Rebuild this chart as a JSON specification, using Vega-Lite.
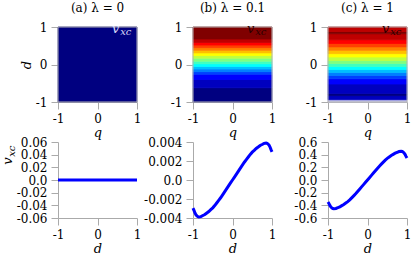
{
  "$schema": "https://vega.github.io/schema/vega-lite/v6.json",
  "padding": {"left": 2, "top": 2, "right": 0, "bottom": 0},
  "config": {
    "font": "DejaVu Serif",
    "view": {"stroke": null},
    "axis": {"grid": false, "domainColor": "#aaaaaa", "tickColor": "#aaaaaa", "tickSize": 7, "labelPadding": 4, "labelFont": "DejaVu Serif", "labelFontSize": 12, "labelColor": "#000000", "labelFlush": false, "labelOverlap": false, "titleFont": "DejaVu Serif", "titleFontSize": 13, "titleFontStyle": "italic", "titleFontWeight": "normal", "titleColor": "#000000", "titlePadding": 2},
    "title": {"font": "DejaVu Serif", "fontSize": 12, "fontWeight": "normal", "color": "#000000", "offset": 6}
  },
  "datasets": {
    "heat_a": [{"d0": -1, "d1": 1, "level": 0}],
    "heat_b": [
      {"d0": -1, "d1": -0.62, "level": 0}, {"d0": -0.62, "d1": -0.40, "level": 1}, {"d0": -0.40, "d1": -0.26, "level": 2},
      {"d0": -0.26, "d1": -0.19, "level": 3}, {"d0": -0.19, "d1": -0.12, "level": 4}, {"d0": -0.12, "d1": -0.05, "level": 5},
      {"d0": -0.05, "d1": 0.02, "level": 6}, {"d0": 0.02, "d1": 0.09, "level": 7}, {"d0": 0.09, "d1": 0.17, "level": 8},
      {"d0": 0.17, "d1": 0.24, "level": 9}, {"d0": 0.24, "d1": 0.31, "level": 10}, {"d0": 0.31, "d1": 0.38, "level": 11},
      {"d0": 0.38, "d1": 0.45, "level": 12}, {"d0": 0.45, "d1": 0.52, "level": 13}, {"d0": 0.52, "d1": 0.59, "level": 14},
      {"d0": 0.59, "d1": 0.68, "level": 15}, {"d0": 0.68, "d1": 1, "level": 16}
    ],
    "heat_c": [
      {"d0": -1, "d1": -0.94, "level": -1}, {"d0": -0.94, "d1": -0.83, "level": 1}, {"d0": -0.83, "d1": -0.77, "level": 0},
      {"d0": -0.77, "d1": -0.52, "level": 1}, {"d0": -0.52, "d1": -0.38, "level": 2}, {"d0": -0.38, "d1": -0.29, "level": 3},
      {"d0": -0.29, "d1": -0.21, "level": 4}, {"d0": -0.21, "d1": -0.13, "level": 5}, {"d0": -0.13, "d1": -0.05, "level": 6},
      {"d0": -0.05, "d1": 0.03, "level": 7}, {"d0": 0.03, "d1": 0.11, "level": 8}, {"d0": 0.11, "d1": 0.20, "level": 9},
      {"d0": 0.20, "d1": 0.29, "level": 10}, {"d0": 0.29, "d1": 0.38, "level": 11}, {"d0": 0.38, "d1": 0.47, "level": 12},
      {"d0": 0.47, "d1": 0.56, "level": 13}, {"d0": 0.56, "d1": 0.66, "level": 14}, {"d0": 0.66, "d1": 0.82, "level": 15},
      {"d0": 0.82, "d1": 0.88, "level": 16}, {"d0": 0.88, "d1": 1, "level": 15}
    ],
    "curve_a": [{"d": -1, "v": 0}, {"d": -0.5, "v": 0}, {"d": 0, "v": 0}, {"d": 0.5, "v": 0}, {"d": 1, "v": 0}],
    "curve_b": [
      {"d": -1, "v": -0.00296}, {"d": -0.975, "v": -0.0032}, {"d": -0.95, "v": -0.00347}, {"d": -0.925, "v": -0.00367},
      {"d": -0.9, "v": -0.00378}, {"d": -0.875, "v": -0.00386}, {"d": -0.85, "v": -0.0039}, {"d": -0.8, "v": -0.00386},
      {"d": -0.75, "v": -0.00374}, {"d": -0.7, "v": -0.00363}, {"d": -0.65, "v": -0.00347}, {"d": -0.6, "v": -0.00332},
      {"d": -0.55, "v": -0.00312}, {"d": -0.5, "v": -0.00293}, {"d": -0.45, "v": -0.00269}, {"d": -0.4, "v": -0.00242},
      {"d": -0.35, "v": -0.00215}, {"d": -0.3, "v": -0.00187}, {"d": -0.25, "v": -0.00156}, {"d": -0.2, "v": -0.00125},
      {"d": -0.15, "v": -0.00094}, {"d": -0.1, "v": -0.00062}, {"d": -0.05, "v": -0.00031}, {"d": 0, "v": 0},
      {"d": 0.05, "v": 0.00031}, {"d": 0.1, "v": 0.00062}, {"d": 0.15, "v": 0.00094}, {"d": 0.2, "v": 0.00125},
      {"d": 0.25, "v": 0.00156}, {"d": 0.3, "v": 0.00187}, {"d": 0.35, "v": 0.00215}, {"d": 0.4, "v": 0.00242},
      {"d": 0.45, "v": 0.00269}, {"d": 0.5, "v": 0.00293}, {"d": 0.55, "v": 0.00312}, {"d": 0.6, "v": 0.00332},
      {"d": 0.65, "v": 0.00347}, {"d": 0.7, "v": 0.00363}, {"d": 0.75, "v": 0.00374}, {"d": 0.8, "v": 0.00386},
      {"d": 0.85, "v": 0.0039}, {"d": 0.875, "v": 0.00386}, {"d": 0.9, "v": 0.00378}, {"d": 0.925, "v": 0.00367},
      {"d": 0.95, "v": 0.00347}, {"d": 0.975, "v": 0.0032}, {"d": 1, "v": 0.00296}
    ],
    "curve_c": [
      {"d": -1, "v": -0.346}, {"d": -0.975, "v": -0.373}, {"d": -0.95, "v": -0.405}, {"d": -0.925, "v": -0.428},
      {"d": -0.9, "v": -0.441}, {"d": -0.875, "v": -0.45}, {"d": -0.85, "v": -0.455}, {"d": -0.8, "v": -0.45},
      {"d": -0.75, "v": -0.437}, {"d": -0.7, "v": -0.423}, {"d": -0.65, "v": -0.405}, {"d": -0.6, "v": -0.387},
      {"d": -0.55, "v": -0.364}, {"d": -0.5, "v": -0.341}, {"d": -0.45, "v": -0.314}, {"d": -0.4, "v": -0.282},
      {"d": -0.35, "v": -0.25}, {"d": -0.3, "v": -0.218}, {"d": -0.25, "v": -0.182}, {"d": -0.2, "v": -0.146},
      {"d": -0.15, "v": -0.109}, {"d": -0.1, "v": -0.073}, {"d": -0.05, "v": -0.036}, {"d": 0, "v": 0},
      {"d": 0.05, "v": 0.036}, {"d": 0.1, "v": 0.073}, {"d": 0.15, "v": 0.109}, {"d": 0.2, "v": 0.146},
      {"d": 0.25, "v": 0.182}, {"d": 0.3, "v": 0.218}, {"d": 0.35, "v": 0.25}, {"d": 0.4, "v": 0.282},
      {"d": 0.45, "v": 0.314}, {"d": 0.5, "v": 0.341}, {"d": 0.55, "v": 0.364}, {"d": 0.6, "v": 0.387},
      {"d": 0.65, "v": 0.405}, {"d": 0.7, "v": 0.423}, {"d": 0.75, "v": 0.437}, {"d": 0.8, "v": 0.45},
      {"d": 0.85, "v": 0.455}, {"d": 0.875, "v": 0.45}, {"d": 0.9, "v": 0.441}, {"d": 0.925, "v": 0.428},
      {"d": 0.95, "v": 0.405}, {"d": 0.975, "v": 0.373}, {"d": 1, "v": 0.346}
    ]
  },
  "columns": 3,
  "bounds": "flush",
  "spacing": {"row": 40, "column": 56},
  "resolve": {"scale": {"color": "shared", "stroke": "shared"}},
  "concat": [
    {
      "width": 79, "height": 75, "title": "(a) λ = 0",
      "layer": [
        {"data": {"name": "heat_a"}, "mark": {"type": "rect", "strokeWidth": 0.8},
         "encoding": {
           "x": {"datum": -1, "type": "quantitative", "scale": {"domain": [-1, 1], "nice": false}, "axis": {"values": [-1, 0, 1], "title": "q", "labelExpr": "replace(format(datum.value, 'd'), '−', '-')"}},
           "x2": {"datum": 1},
           "y": {"field": "d0", "type": "quantitative", "scale": {"domain": [-1, 1], "nice": false}, "axis": {"values": [-1, 0, 1], "title": "d", "labelExpr": "replace(format(datum.value, 'd'), '−', '-')"}},
           "y2": {"field": "d1"},
           "color": {"field": "level", "type": "ordinal", "legend": null, "scale": {"domain": [-1, 0, 1, 2, 3, 4, 5, 6, 7, 8, 9, 10, 11, 12, 13, 14, 15, 16], "range": ["#c8c8ec", "#000080", "#0000bf", "#0000ff", "#0040ff", "#0080ff", "#00bfff", "#00ffff", "#40ffbf", "#80ff80", "#bfff40", "#ffff00", "#ffbf00", "#ff8000", "#ff4000", "#ff0000", "#bf0000", "#800000"]}},
           "stroke": {"field": "level", "type": "ordinal", "legend": null, "scale": {"domain": [-1, 0, 1, 2, 3, 4, 5, 6, 7, 8, 9, 10, 11, 12, 13, 14, 15, 16], "range": ["#c8c8ec", "#000080", "#0000bf", "#0000ff", "#0040ff", "#0080ff", "#00bfff", "#00ffff", "#40ffbf", "#80ff80", "#bfff40", "#ffff00", "#ffbf00", "#ff8000", "#ff4000", "#ff0000", "#bf0000", "#800000"]}}
         }},
        {"data": {"values": [{}]}, "mark": {"type": "rect", "filled": false, "color": "#b4b4b4", "strokeWidth": 1},
         "encoding": {
           "x": {"datum": -1, "type": "quantitative", "axis": {"values": [-1, 0, 1], "title": "q", "labelExpr": "replace(format(datum.value, 'd'), '−', '-')"}}, "x2": {"datum": 1},
           "y": {"datum": -1, "type": "quantitative", "axis": {"values": [-1, 0, 1], "title": "d", "labelExpr": "replace(format(datum.value, 'd'), '−', '-')"}}, "y2": {"datum": 1}}},
        {"data": {"values": [{}]}, "mark": {"type": "text", "text": "xc", "font": "DejaVu Serif", "fontStyle": "italic", "fontSize": 10, "align": "right", "baseline": "alphabetic", "color": "#d8d8f8"},
         "encoding": {
           "x": {"datum": 0.86, "type": "quantitative", "axis": {"values": [-1, 0, 1], "title": "q", "labelExpr": "replace(format(datum.value, 'd'), '−', '-')"}},
           "y": {"datum": 0.79, "type": "quantitative", "axis": {"values": [-1, 0, 1], "title": "d", "labelExpr": "replace(format(datum.value, 'd'), '−', '-')"}}}},
        {"data": {"values": [{}]}, "mark": {"type": "text", "text": "v", "font": "DejaVu Serif", "fontStyle": "italic", "fontSize": 13, "align": "right", "baseline": "alphabetic", "dx": -12, "color": "#d8d8f8"},
         "encoding": {
           "x": {"datum": 0.86, "type": "quantitative", "axis": {"values": [-1, 0, 1], "title": "q", "labelExpr": "replace(format(datum.value, 'd'), '−', '-')"}},
           "y": {"datum": 0.84, "type": "quantitative", "axis": {"values": [-1, 0, 1], "title": "d", "labelExpr": "replace(format(datum.value, 'd'), '−', '-')"}}}}
      ]
    },
    {
      "width": 79, "height": 75, "title": "(b) λ = 0.1",
      "layer": [
        {"data": {"name": "heat_b"}, "mark": {"type": "rect", "strokeWidth": 0.8},
         "encoding": {
           "x": {"datum": -1, "type": "quantitative", "scale": {"domain": [-1, 1], "nice": false}, "axis": {"values": [-1, 0, 1], "title": "q", "labelExpr": "replace(format(datum.value, 'd'), '−', '-')"}},
           "x2": {"datum": 1},
           "y": {"field": "d0", "type": "quantitative", "scale": {"domain": [-1, 1], "nice": false}, "axis": {"values": [-1, 0, 1], "title": null, "labelExpr": "replace(format(datum.value, 'd'), '−', '-')"}},
           "y2": {"field": "d1"},
           "color": {"field": "level", "type": "ordinal", "legend": null},
           "stroke": {"field": "level", "type": "ordinal", "legend": null}
         }},
        {"data": {"values": [{}]}, "mark": {"type": "rect", "filled": false, "color": "#b4b4b4", "strokeWidth": 1},
         "encoding": {
           "x": {"datum": -1, "type": "quantitative", "axis": {"values": [-1, 0, 1], "title": "q", "labelExpr": "replace(format(datum.value, 'd'), '−', '-')"}}, "x2": {"datum": 1},
           "y": {"datum": -1, "type": "quantitative", "axis": {"values": [-1, 0, 1], "title": null, "labelExpr": "replace(format(datum.value, 'd'), '−', '-')"}}, "y2": {"datum": 1}}},
        {"data": {"values": [{}]}, "mark": {"type": "text", "text": "xc", "font": "DejaVu Serif", "fontStyle": "italic", "fontSize": 10, "align": "right", "baseline": "alphabetic", "color": "#2a0000"},
         "encoding": {
           "x": {"datum": 0.86, "type": "quantitative", "axis": {"values": [-1, 0, 1], "title": "q", "labelExpr": "replace(format(datum.value, 'd'), '−', '-')"}},
           "y": {"datum": 0.79, "type": "quantitative", "axis": {"values": [-1, 0, 1], "title": null, "labelExpr": "replace(format(datum.value, 'd'), '−', '-')"}}}},
        {"data": {"values": [{}]}, "mark": {"type": "text", "text": "v", "font": "DejaVu Serif", "fontStyle": "italic", "fontSize": 13, "align": "right", "baseline": "alphabetic", "dx": -12, "color": "#2a0000"},
         "encoding": {
           "x": {"datum": 0.86, "type": "quantitative", "axis": {"values": [-1, 0, 1], "title": "q", "labelExpr": "replace(format(datum.value, 'd'), '−', '-')"}},
           "y": {"datum": 0.84, "type": "quantitative", "axis": {"values": [-1, 0, 1], "title": null, "labelExpr": "replace(format(datum.value, 'd'), '−', '-')"}}}}
      ]
    },
    {
      "width": 79, "height": 75, "title": "(c) λ = 1",
      "layer": [
        {"data": {"name": "heat_c"}, "mark": {"type": "rect", "strokeWidth": 0.8},
         "encoding": {
           "x": {"datum": -1, "type": "quantitative", "scale": {"domain": [-1, 1], "nice": false}, "axis": {"values": [-1, 0, 1], "title": "q", "labelExpr": "replace(format(datum.value, 'd'), '−', '-')"}},
           "x2": {"datum": 1},
           "y": {"field": "d0", "type": "quantitative", "scale": {"domain": [-1, 1], "nice": false}, "axis": {"values": [-1, 0, 1], "title": null, "labelExpr": "replace(format(datum.value, 'd'), '−', '-')"}},
           "y2": {"field": "d1"},
           "color": {"field": "level", "type": "ordinal", "legend": null},
           "stroke": {"field": "level", "type": "ordinal", "legend": null}
         }},
        {"data": {"values": [{}]}, "mark": {"type": "rect", "filled": false, "color": "#b4b4b4", "strokeWidth": 1},
         "encoding": {
           "x": {"datum": -1, "type": "quantitative", "axis": {"values": [-1, 0, 1], "title": "q", "labelExpr": "replace(format(datum.value, 'd'), '−', '-')"}}, "x2": {"datum": 1},
           "y": {"datum": -1, "type": "quantitative", "axis": {"values": [-1, 0, 1], "title": null, "labelExpr": "replace(format(datum.value, 'd'), '−', '-')"}}, "y2": {"datum": 1}}},
        {"data": {"values": [{}]}, "mark": {"type": "text", "text": "xc", "font": "DejaVu Serif", "fontStyle": "italic", "fontSize": 10, "align": "right", "baseline": "alphabetic", "color": "#2a0000"},
         "encoding": {
           "x": {"datum": 0.86, "type": "quantitative", "axis": {"values": [-1, 0, 1], "title": "q", "labelExpr": "replace(format(datum.value, 'd'), '−', '-')"}},
           "y": {"datum": 0.79, "type": "quantitative", "axis": {"values": [-1, 0, 1], "title": null, "labelExpr": "replace(format(datum.value, 'd'), '−', '-')"}}}},
        {"data": {"values": [{}]}, "mark": {"type": "text", "text": "v", "font": "DejaVu Serif", "fontStyle": "italic", "fontSize": 13, "align": "right", "baseline": "alphabetic", "dx": -12, "color": "#2a0000"},
         "encoding": {
           "x": {"datum": 0.86, "type": "quantitative", "axis": {"values": [-1, 0, 1], "title": "q", "labelExpr": "replace(format(datum.value, 'd'), '−', '-')"}},
           "y": {"datum": 0.84, "type": "quantitative", "axis": {"values": [-1, 0, 1], "title": null, "labelExpr": "replace(format(datum.value, 'd'), '−', '-')"}}}}
      ]
    },
    {
      "width": 79, "height": 76,
      "layer": [
        {"data": {"name": "curve_a"}, "mark": {"type": "line", "color": "#0000ff", "strokeWidth": 3},
         "encoding": {
           "x": {"field": "d", "type": "quantitative", "scale": {"domain": [-1, 1], "nice": false}, "axis": {"values": [-1, 0, 1], "title": "d", "labelExpr": "replace(format(datum.value, 'd'), '−', '-')"}},
           "y": {"field": "v", "type": "quantitative", "scale": {"domain": [-0.06, 0.06], "nice": false, "zero": false}, "axis": {"values": [-0.06, -0.04, -0.02, 0, 0.02, 0.04, 0.06], "title": null, "labelExpr": "datum.value == 0 ? '0.0' : replace(format(datum.value, '.2f'), '−', '-')"}}
         }},
        {"data": {"values": [{}]}, "mark": {"type": "text", "text": "v", "font": "DejaVu Serif", "fontStyle": "italic", "fontSize": 13, "angle": 270, "align": "left", "baseline": "alphabetic", "dy": -46},
         "encoding": {
           "x": {"datum": -1, "type": "quantitative", "axis": {"values": [-1, 0, 1], "title": "d", "labelExpr": "replace(format(datum.value, 'd'), '−', '-')"}},
           "y": {"datum": 0.024, "type": "quantitative", "axis": {"values": [-0.06, -0.04, -0.02, 0, 0.02, 0.04, 0.06], "title": null, "labelExpr": "datum.value == 0 ? '0.0' : replace(format(datum.value, '.2f'), '−', '-')"}}}},
        {"data": {"values": [{}]}, "mark": {"type": "text", "text": "xc", "font": "DejaVu Serif", "fontStyle": "italic", "fontSize": 10, "angle": 270, "align": "left", "baseline": "alphabetic", "dx": 8, "dy": -43},
         "encoding": {
           "x": {"datum": -1, "type": "quantitative", "axis": {"values": [-1, 0, 1], "title": "d", "labelExpr": "replace(format(datum.value, 'd'), '−', '-')"}},
           "y": {"datum": 0.024, "type": "quantitative", "axis": {"values": [-0.06, -0.04, -0.02, 0, 0.02, 0.04, 0.06], "title": null, "labelExpr": "datum.value == 0 ? '0.0' : replace(format(datum.value, '.2f'), '−', '-')"}}}}
      ]
    },
    {
      "width": 79, "height": 76, "data": {"name": "curve_b"},
      "mark": {"type": "line", "color": "#0000ff", "strokeWidth": 3},
      "encoding": {
        "x": {"field": "d", "type": "quantitative", "scale": {"domain": [-1, 1], "nice": false}, "axis": {"values": [-1, 0, 1], "title": "d", "labelExpr": "replace(format(datum.value, 'd'), '−', '-')"}},
        "y": {"field": "v", "type": "quantitative", "scale": {"domain": [-0.004, 0.004], "nice": false, "zero": false}, "axis": {"values": [-0.004, -0.002, 0, 0.002, 0.004], "title": null, "labelExpr": "datum.value == 0 ? '0.0' : replace(format(datum.value, '.3f'), '−', '-')"}}
      }
    },
    {
      "width": 79, "height": 76, "data": {"name": "curve_c"},
      "mark": {"type": "line", "color": "#0000ff", "strokeWidth": 3},
      "encoding": {
        "x": {"field": "d", "type": "quantitative", "scale": {"domain": [-1, 1], "nice": false}, "axis": {"values": [-1, 0, 1], "title": "d", "labelExpr": "replace(format(datum.value, 'd'), '−', '-')"}},
        "y": {"field": "v", "type": "quantitative", "scale": {"domain": [-0.6, 0.6], "nice": false, "zero": false}, "axis": {"values": [-0.6, -0.4, -0.2, 0, 0.2, 0.4, 0.6], "title": null, "labelExpr": "datum.value == 0 ? '0.0' : replace(format(datum.value, '.1f'), '−', '-')"}}
      }
    }
  ]
}
